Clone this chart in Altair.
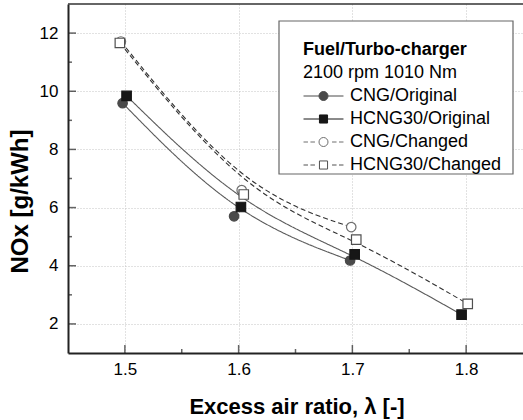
import altair as alt
import pandas as pd

# ---------------- data ----------------
series_names = ["CNG/Original", "HCNG30/Original", "CNG/Changed", "HCNG30/Changed"]

cng_orig_x = [1.498, 1.596, 1.698]
cng_orig_y = [9.59, 5.70, 4.18]

hcng_orig_x = [1.5015, 1.602, 1.702, 1.796]
hcng_orig_y = [9.84, 6.02, 4.39, 2.32]

cng_ch_x = [1.4965, 1.6027, 1.699]
cng_ch_y = [11.71, 6.60, 5.33]

hcng_ch_x = [1.4956, 1.6045, 1.7034, 1.8014]
hcng_ch_y = [11.66, 6.45, 4.90, 2.69]

x_major = [1.5, 1.6, 1.7, 1.8]
x_minor = [1.55, 1.65, 1.75]
y_major = [2, 4, 6, 8, 10, 12]
y_minor = [3, 5, 7, 9, 11]

legend_title = "Fuel/Turbo-charger"
legend_subtitle = "2100 rpm 1010 Nm"
x_title = "Excess air ratio, λ [-]"
y_title = "NOx [g/kWh]"

# ---------------- table ----------------
rows = []
for name, xs, ys in [
    (series_names[0], cng_orig_x, cng_orig_y),
    (series_names[1], hcng_orig_x, hcng_orig_y),
    (series_names[2], cng_ch_x, cng_ch_y),
    (series_names[3], hcng_ch_x, hcng_ch_y),
]:
    for xv, yv in zip(xs, ys):
        rows.append({"series": name, "x": xv, "y": yv})
df = pd.DataFrame(rows)

FONT = "Liberation Sans"
W, H = 455, 349

xscale = alt.Scale(domain=[1.45, 1.85], nice=False, zero=False)
yscale = alt.Scale(domain=[1, 13], nice=False, zero=False)

X = alt.X("x:Q", scale=xscale, title=x_title, axis=alt.Axis(
    values=x_major, format=".1f", title=x_title, ticks=False,
    labelPadding=8, labelFontSize=17, labelFont=FONT, labelColor="black",
    titleFontSize=22, titleFont=FONT, titleFontWeight="bold", titleColor="black",
    titleBaseline="alphabetic", titleY=60, titleX=W / 2 + 1,
    domainColor="#222222", domainWidth=2,
    grid=True, gridDash=[1, 2], gridColor="#c4c4c4", gridWidth=1,
))
Y = alt.Y("y:Q", scale=yscale, title=y_title, axis=alt.Axis(
    values=y_major, format="d", title=y_title, ticks=False,
    labelPadding=10, labelFontSize=17, labelFont=FONT, labelColor="black",
    titleFontSize=24, titleFont=FONT, titleFontWeight="bold", titleColor="black",
    titleAngle=270, titleBaseline="alphabetic", titleAlign="center",
    titleX=-41, titleY=197,
    domainColor="#222222", domainWidth=2,
    grid=True, gridDash=[1, 2], gridColor="#c4c4c4", gridWidth=1,
))

lines = alt.Chart(df).mark_line(interpolate="basis", strokeWidth=1.1).encode(
    x=X, y=Y,
    detail="series:N",
    order="x:Q",
    color=alt.Color("series:N", scale=alt.Scale(domain=series_names,
                    range=["#5a5a5a", "#5a5a5a", "#303030", "#303030"]), legend=None),
    strokeDash=alt.StrokeDash("series:N", scale=alt.Scale(domain=series_names,
                    range=[[1, 0], [1, 0], [5, 3], [5, 3]]), legend=None),
)

points = alt.Chart(df).mark_point(filled=True, opacity=1, strokeWidth=1.2, size=90).encode(
    x=X, y=Y,
    shape=alt.Shape("series:N", scale=alt.Scale(domain=series_names,
                    range=["circle", "square", "circle", "square"]), legend=None),
    fill=alt.Fill("series:N", scale=alt.Scale(domain=series_names,
                  range=["#4a4a4a", "#161616", "#ffffff", "#ffffff"]), legend=None),
    stroke=alt.Stroke("series:N", scale=alt.Scale(domain=series_names,
                      range=["#4a4a4a", "#161616", "#6e6e6e", "#505050"]), legend=None),
)

# legend frame and subtitle
frame = alt.Chart(alt.Data(values=[{}])).mark_rect(
    fill="white", stroke="#666666", strokeWidth=1.2
).encode(x=alt.value(211), x2=alt.value(445), y=alt.value(17), y2=alt.value(170))

subtitle = alt.Chart(alt.Data(values=[{"t": legend_subtitle}])).mark_text(
    align="left", baseline="alphabetic", fontSize=18, font=FONT, color="black"
).encode(x=alt.value(235), y=alt.value(74.3), text="t:N")

# legend symbols: line + marker drawn as custom paths
solid_circle = "M-4.44,0H-1M1,0H4.44M-1,0A1,1,0,1,0,1,0A1,1,0,1,0,-1,0Z"
solid_square = "M-4.44,0H-0.9M0.9,0H4.44M-0.9,-0.9H0.9V0.9H-0.9Z"
dash_circle = ("M-4.44,0H-3.45M-2.9,0H-1.9M1.9,0H2.9M3.45,0H4.44"
               "M-1,0A1,1,0,1,0,1,0A1,1,0,1,0,-1,0Z")
dash_square = ("M-4.44,0H-3.45M-2.9,0H-1.9M1.9,0H2.9M3.45,0H4.44"
               "M-0.9,-0.9H0.9V0.9H-0.9Z")

legend_layer = alt.Chart(alt.Data(values=[])).mark_point(
    filled=True, opacity=1, strokeWidth=1
).encode(
    shape=alt.Shape("series:N", scale=alt.Scale(domain=series_names,
                    range=[solid_circle, solid_square, dash_circle, dash_square]),
                    legend=alt.Legend(
                        orient="none", legendX=235, legendY=37,
                        title=legend_title, titleFontSize=18, titleFont=FONT,
                        titleFontWeight="bold", titleColor="black", titlePadding=28,
                        labelFontSize=18, labelFont=FONT, labelColor="black",
                        symbolSize=81, symbolStrokeWidth=1, symbolOffset=11.5,
                        labelOffset=17.5, rowPadding=5, padding=0,
                    )),
    fill=alt.Fill("series:N", scale=alt.Scale(domain=series_names,
                  range=["#4a4a4a", "#161616", "#ffffff", "#ffffff"])),
    stroke=alt.Stroke("series:N", scale=alt.Scale(domain=series_names,
                      range=["#4a4a4a", "#161616", "#6e6e6e", "#505050"])),
)

# inward tick marks
xt_major = alt.Chart(pd.DataFrame({"x": x_major})).mark_tick(
    orient="vertical", size=8, thickness=1.5, color="#222222"
).encode(x=X, y=alt.value(H - 4))
xt_minor = alt.Chart(pd.DataFrame({"x": x_minor})).mark_tick(
    orient="vertical", size=4, thickness=1.5, color="#222222"
).encode(x=X, y=alt.value(H - 2))
yt_major = alt.Chart(pd.DataFrame({"y": y_major})).mark_tick(
    orient="horizontal", size=8, thickness=1.5, color="#222222"
).encode(y=Y, x=alt.value(4))
yt_minor = alt.Chart(pd.DataFrame({"y": y_minor})).mark_tick(
    orient="horizontal", size=4, thickness=1.5, color="#222222"
).encode(y=Y, x=alt.value(2))

top_border = alt.Chart(alt.Data(values=[{}])).mark_rule(
    color="#333333", strokeWidth=1.6
).encode(x=alt.value(0), x2=alt.value(W), y=alt.value(0))

chart = alt.layer(
    lines, points, frame, subtitle, xt_major, xt_minor, yt_major, yt_minor,
    top_border, legend_layer
).resolve_scale(
    shape="independent", fill="independent", stroke="independent"
).properties(
    width=W, height=H,
    autosize=alt.AutoSizeParams(type="none"),
    padding={"left": 68, "top": 4, "right": 0, "bottom": 67},
    background="white",
).configure_view(stroke=None)

chart.save("out.html", embed_options={"renderer": "svg", "actions": False})
